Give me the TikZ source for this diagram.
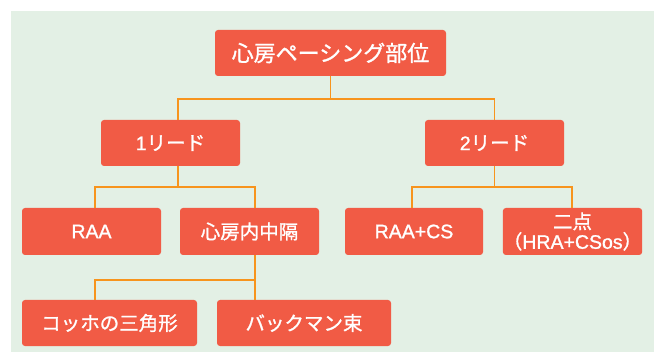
\documentclass[tikz,border=0pt]{standalone}
\usepackage{fontspec}
\setmainfont[FakeBold=1.2]{Liberation Sans}
\newfontfamily\jp[FakeBold=1.2]{Noto Sans CJK JP}
\definecolor{bgc}{HTML}{E3F0E5}
\definecolor{boxc}{HTML}{F15B45}
\definecolor{linec}{HTML}{F7941D}
\begin{document}
\begin{tikzpicture}[x=1pt,y=-1pt,
  box/.style={fill=boxc, rounded corners=3pt, text=white, inner sep=0pt,
    font=\fontsize{19.5}{20}\selectfont, minimum height=46pt, align=center},
  conn/.style={draw=linec, line width=1.8pt}]
\useasboundingbox (0,0) rectangle (658,352);
\fill[white] (0,0) rectangle (658,352);
\fill[bgc] (11,11) rectangle (654,352);

\node[box, minimum width=231pt, font=\fontsize{22}{24}\selectfont] (root) at (330.5,53) {\jp 心房ペーシング部位};
\node[box, minimum width=139pt] (l1) at (170.5,143) {1{\jp リード}};
\node[box, minimum width=139pt] (l2) at (494.5,143) {2{\jp リード}};
\node[box, minimum width=139pt, minimum height=47pt] (raa) at (91.5,231.5) {RAA};
\node[box, minimum width=139pt, minimum height=47pt] (mid) at (249.5,231.5) {\jp 心房内中隔};
\node[box, minimum width=138pt, minimum height=47pt] (rcs) at (414,231.5) {RAA+CS};
\node[box, minimum width=139pt, minimum height=47pt, font=\fontsize{19.5}{20}\selectfont] (two) at (572.5,231.5) {{\jp 二点}\\{\jp （}HRA+CSos{\jp ）}};
\node[box, minimum width=175pt] (koch) at (109.5,323) {\jp コッホの三角形};
\node[box, minimum width=174pt] (bach) at (304,323) {\jp バックマン束};

\coordinate (j0) at (330.5,99);
\coordinate (j1) at (178,187);
\coordinate (j2) at (494.5,187);
\coordinate (j3) at (255,280);

\draw[conn] (root.south) -- (j0);
\draw[conn] (j0) -| ([xshift=7.5pt]l1.north);
\draw[conn] (j0) -| (l2.north);

\draw[conn] ([xshift=7.5pt]l1.south) -- (j1);
\draw[conn] (j1) -| ([xshift=3.5pt]raa.north);
\draw[conn] (j1) -| ([xshift=5.5pt]mid.north);

\draw[conn] (l2.south) -- (j2);
\draw[conn] (j2) -| ([xshift=-2pt]rcs.north);
\draw[conn] (j2) -| ([xshift=-0.5pt]two.north);

\draw[conn] ([xshift=5.5pt]mid.south) -- (j3);
\draw[conn] (j3) -| ([xshift=-14.5pt]koch.north);
\draw[conn] (j3) -| ([xshift=-49pt]bach.north);
\end{tikzpicture}
\end{document}
